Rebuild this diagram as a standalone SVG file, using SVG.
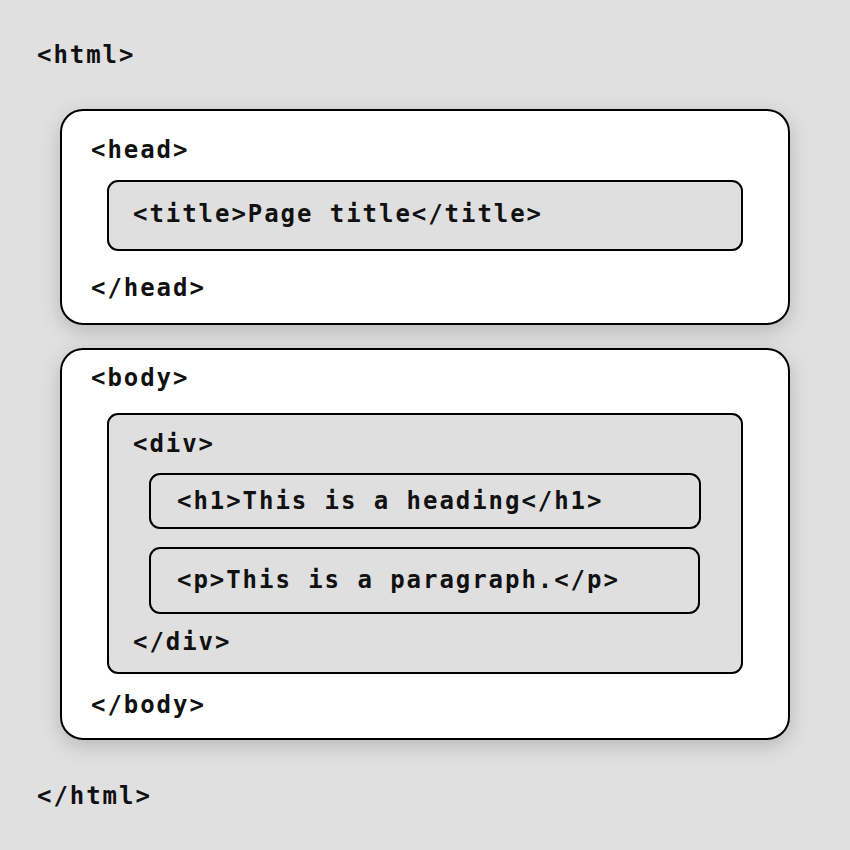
<svg xmlns="http://www.w3.org/2000/svg" width="850" height="850" viewBox="0 0 850 850">
<defs>
<filter id="sh" x="-10%" y="-20%" width="120%" height="140%">
<feDropShadow dx="0" dy="6" stdDeviation="10" flood-color="#000" flood-opacity="0.18"/>
</filter>
</defs>
<style>
text{font-family:"DejaVu Sans Mono","Liberation Mono",monospace;font-weight:bold;font-size:24px;letter-spacing:1.95px;fill:#111}
.outer{fill:#fff;stroke:#000;stroke-width:2}
.inner{fill:#dfdfdf;stroke:#000;stroke-width:2}
</style>
<rect width="850" height="850" fill="#e0e0e0"/>
<g id="html">
<text x="37" y="63">&lt;html&gt;</text>
<text x="37" y="804">&lt;/html&gt;</text>
</g>
<g id="head">
<rect class="outer" x="61" y="110" width="728" height="214" rx="22" filter="url(#sh)"/>
<text x="91" y="158">&lt;head&gt;</text>
<text x="91" y="296">&lt;/head&gt;</text>
</g>
<g id="title">
<rect class="inner" x="108" y="181" width="634" height="69" rx="10"/>
<text x="133" y="222">&lt;title&gt;Page title&lt;/title&gt;</text>
</g>
<g id="body">
<rect class="outer" x="61" y="349" width="728" height="390" rx="22" filter="url(#sh)"/>
<text x="91" y="386">&lt;body&gt;</text>
<text x="91" y="713">&lt;/body&gt;</text>
</g>
<g id="div">
<rect class="inner" x="108" y="414" width="634" height="259" rx="10"/>
<text x="133" y="452">&lt;div&gt;</text>
<text x="133" y="650">&lt;/div&gt;</text>
</g>
<g id="h1">
<rect class="inner" x="150" y="474" width="550" height="54" rx="10"/>
<text x="177" y="509">&lt;h1&gt;This is a heading&lt;/h1&gt;</text>
</g>
<g id="p">
<rect class="inner" x="150" y="548" width="549" height="65" rx="10"/>
<text x="177" y="588">&lt;p&gt;This is a paragraph.&lt;/p&gt;</text>
</g>
<g id="connectors"></g>
</svg>
